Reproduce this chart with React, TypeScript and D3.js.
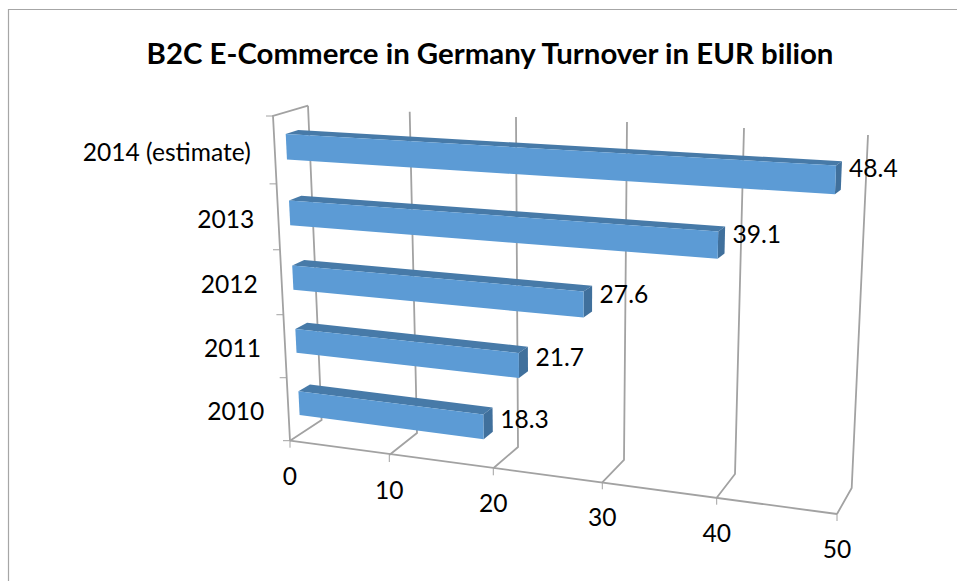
import React from "react";
import * as d3 from "d3";

const title = "B2C E-Commerce in Germany Turnover in EUR bilion";
const categories = ["2010", "2011", "2012", "2013", "2014 (estimate)"];
const values = [18.3, 21.7, 27.6, 39.1, 48.4];
const valueTicks = [0, 10, 20, 30, 40, 50];
const W = 957, H = 581;

// Projection of the 3D box: value axis anchors on the four long edges of the box.
const s = (r: number[]) => d3.scaleLinear<number>().domain(valueTicks).range(r);
const floorFrontX = s([290, 389.3, 493.3, 602.3, 716.7, 837]);
const floorFrontY = s([440.7, 455, 468.3, 482.3, 497.7, 514]);
const floorBackX = s([321.6, 417, 518, 624, 735, 851.7]);
const floorBackY = s([420, 433, 447, 460, 474, 488]);
const topFrontX = s([273, 378, 488, 603, 725, 852]);
const topFrontY = s([116, 122, 127, 132, 138, 146]);
const topBackX = s([308, 409.7, 516, 627, 744, 868]);
const topBackY = s([105.7, 111.7, 117, 122, 128, 135]);
// Category axis: band index to height fraction on the wall
const heightScale = d3.scaleLinear().domain([0, 1, 2, 3, 4, 5]).range([0, 0.194, 0.388, 0.588, 0.791, 1]);

const DF = 0.33, DB = 0.69, B0 = 0.27, B1 = 0.65, LIFT = 2;

function project(v: number, h: number, d: number): [number, number] {
  const fx = d3.interpolateNumber(floorFrontX(v), floorBackX(v))(d);
  const fy = d3.interpolateNumber(floorFrontY(v), floorBackY(v))(d);
  const tx = d3.interpolateNumber(topFrontX(v), topBackX(v))(d);
  const ty = d3.interpolateNumber(topFrontY(v), topBackY(v))(d);
  return [fx + (tx - fx) * h, fy + (ty - fy) * h];
}
const barPoint = (v: number, h: number, d: number): [number, number] => {
  const [x, y] = project(v, h, d);
  return [x, y - LIFT];
};
const line = d3.line();
const poly = (p: [number, number][]) => line(p) + "Z";

const GRID = "#a2a2a2";
const FONT = "Lato, Carlito, sans-serif";

export default function App() {
  const bars = values.map((v, k) => {
    const h0 = heightScale(k + B0), h1 = heightScale(k + B1);
    return {
      v, k,
      front: poly([barPoint(0, h0, DF), barPoint(v, h0, DF), barPoint(v, h1, DF), barPoint(0, h1, DF)]),
      top: poly([barPoint(0, h1, DF), barPoint(v, h1, DF), barPoint(v, h1, DB), barPoint(0, h1, DB)]),
      side: poly([barPoint(v, h0, DF), barPoint(v, h0, DB), barPoint(v, h1, DB), barPoint(v, h1, DF)]),
      lab: project(v, (h0 + h1) / 2, 0.67),
      cat: project(0, (heightScale(k) + heightScale(k + 1)) / 2, 0),
    };
  });
  return (
    <svg width={W} height={H} viewBox={`0 0 ${W} ${H}`} style={{ position: "absolute", left: 0, top: 0, display: "block", background: "#fff" }}>
      <defs>
        <filter id="soft" x="-5%" y="-5%" width="110%" height="110%"><feGaussianBlur stdDeviation="0.45" /></filter>
      </defs>
      <path d={`M8.5,581V9.5H${W}`} fill="none" stroke="#a6a6a6" strokeWidth={1.2} />
      <text x={490} y={64} textAnchor="middle" fontFamily={FONT} fontWeight={700} fontSize={29.4} fill="#000">{title}</text>

      <g filter="url(#soft)" fill="none" stroke={GRID} strokeWidth={1.8}>
        {valueTicks.map((t) => (
          <g key={t}>
            <path d={line([project(t, 1, 1), project(t, 0, 1), project(t, 0, 0)])!} />
            <path d={line([project(t, 0, 0), [floorFrontX(t), floorFrontY(t) + 7]])!} strokeWidth={1} />
          </g>
        ))}
        <path d={line([project(0, 0, 0), project(50, 0, 0)])!} />
        <path d={line([project(0, 1, 1), project(0, 1, 0), project(0, 0, 0)])!} />
        {heightScale.domain().map((k) => {
          const p = project(0, heightScale(k), 0);
          return <path key={k} d={line([[p[0] - 7, p[1]], p])!} strokeWidth={1} />;
        })}
      </g>

      <g filter="url(#soft)">
        {bars.map((b) => (
          <g key={b.k}>
            <path d={b.top} fill="#477aa8" />
            <path d={b.side} fill="#3f6f9c" />
            <path d={b.front} fill="#5b9bd5" />
          </g>
        ))}
      </g>

      <g fontFamily={FONT} fontSize={24.6} fill="#000">
        {bars.map((b) => (
          <text key={b.k} x={b.lab[0] + 8} y={b.lab[1] - 3 - b.k * 1.7} dy="0.36em">{b.v.toFixed(1)}</text>
        ))}
        {bars.map((b) => (
          <text key={b.k} x={b.cat[0] - 24} y={b.cat[1] + 2} dy="0.36em" textAnchor="end">{categories[b.k]}</text>
        ))}
        {valueTicks.map((t) => (
          <text key={t} x={floorFrontX(t)} y={floorFrontY(t) + 35} dy="0.36em" textAnchor="middle">{t}</text>
        ))}
      </g>
    </svg>
  );
}
